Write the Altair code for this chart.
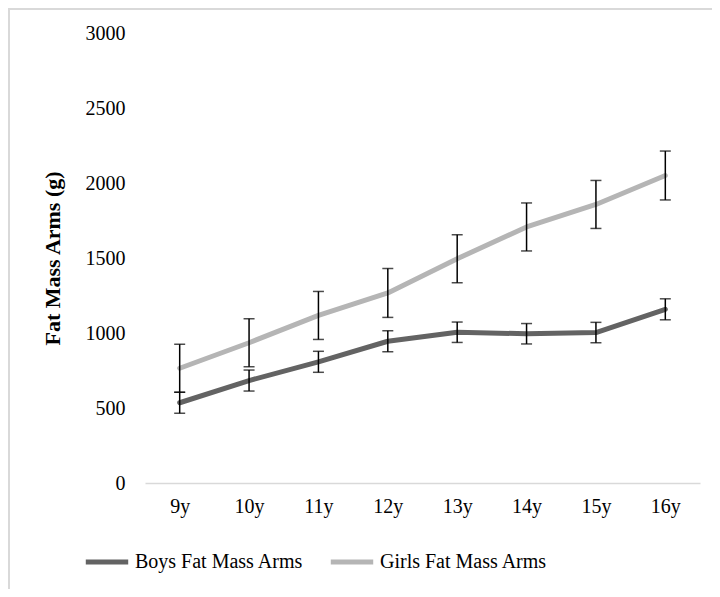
import altair as alt
import pandas as pd

ages = ["9y", "10y", "11y", "12y", "13y", "14y", "15y", "16y"]
boys_mean = [535, 683, 808, 945, 1005, 995, 1003, 1158]
boys_err = [70, 70, 70, 70, 68, 68, 68, 70]
girls_mean = [765, 935, 1117, 1267, 1495, 1707, 1857, 2050]
girls_err = [160, 160, 160, 163, 160, 160, 160, 163]
series_names = ["Boys Fat Mass Arms", "Girls Fat Mass Arms"]
series_colors = ["#636363", "#b5b5b5"]

rows = []
for a, m, e in zip(ages, boys_mean, boys_err):
    rows.append({"age": a, "series": series_names[0], "mean": m, "lo": m - e, "hi": m + e})
for a, m, e in zip(ages, girls_mean, girls_err):
    rows.append({"age": a, "series": series_names[1], "mean": m, "lo": m - e, "hi": m + e})
df = pd.DataFrame(rows)

FONT = "Liberation Serif"

x_scale = alt.Scale(type="point", padding=0.5)
y_scale = alt.Scale(domain=[0, 3000], nice=False)
x_axis = alt.Axis(title=None, labelAngle=0, ticks=False, domainColor="#d9d9d9",
                  domainWidth=1.5, labelPadding=13)
y_axis = alt.Axis(title="Fat Mass Arms (g)", values=[0, 500, 1000, 1500, 2000, 2500, 3000],
                  format="d", grid=False, ticks=False, domain=False, labelPadding=20,
                  titleFontWeight="bold", titleFontSize=22, titleX=-81)

base = alt.Chart(df)

lines = base.mark_line(strokeWidth=5, strokeCap="round", strokeJoin="round").encode(
    x=alt.X("age:O", sort=ages, scale=x_scale, axis=x_axis),
    y=alt.Y("mean:Q", scale=y_scale, axis=y_axis),
    color=alt.Color("series:N", scale=alt.Scale(domain=series_names, range=series_colors),
                    legend=alt.Legend(title=None, orient="none", legendX=-62, legendY=505,
                                      direction="horizontal", columns=2, symbolType="stroke",
                                      symbolStrokeWidth=5, symbolSize=1800, labelLimit=400,
                                      columnPadding=16, labelOffset=4)),
)

err = base.mark_rule(color="#000000", strokeWidth=1.5).encode(
    x=alt.X("age:O", sort=ages, scale=x_scale, axis=x_axis),
    y=alt.Y("lo:Q", scale=y_scale, axis=y_axis), y2="hi:Q")
cap_lo = base.mark_tick(color="#000000", thickness=1.5, size=11, orient="horizontal").encode(
    x=alt.X("age:O", sort=ages, scale=x_scale, axis=x_axis),
    y=alt.Y("lo:Q", scale=y_scale, axis=y_axis))
cap_hi = base.mark_tick(color="#000000", thickness=1.5, size=11, orient="horizontal").encode(
    x=alt.X("age:O", sort=ages, scale=x_scale, axis=x_axis),
    y=alt.Y("hi:Q", scale=y_scale, axis=y_axis))

frame_left = alt.Chart(df).mark_rule(color="#d9d9d9", strokeWidth=2).encode(
    x=alt.value(-136), y=alt.value(-24), y2=alt.value(560))
frame_top = alt.Chart(df).mark_rule(color="#d9d9d9", strokeWidth=2).encode(
    x=alt.value(-137), x2=alt.value(570), y=alt.value(-24))

chart = alt.layer(frame_left, frame_top, lines, err, cap_lo, cap_hi).properties(
    width=555, height=450,
    background="#ffffff",
    autosize=alt.AutoSizeParams(type="none"),
    padding={"left": 137, "top": 25, "right": 12, "bottom": 106},
).configure_view(stroke="transparent", strokeWidth=0).configure_axis(
    labelFont=FONT, labelFontSize=20, labelColor="#000000",
    titleFont=FONT, titleColor="#000000",
).configure_legend(labelFont=FONT, labelFontSize=20, labelColor="#000000")

chart.save("out.html", embed_options={"renderer": "svg", "actions": False})
